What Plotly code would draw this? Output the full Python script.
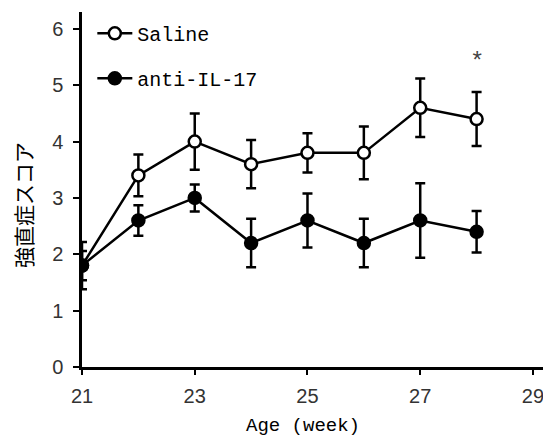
import plotly.graph_objects as go

weeks = [21, 22, 23, 24, 25, 26, 27, 28]
saline = [1.8, 3.4, 4.0, 3.6, 3.8, 3.8, 4.6, 4.4]
saline_err = [0.42, 0.37, 0.5, 0.43, 0.35, 0.47, 0.52, 0.48]
anti = [1.8, 2.6, 3.0, 2.2, 2.6, 2.2, 2.6, 2.4]
anti_err = [0.26, 0.27, 0.24, 0.43, 0.48, 0.43, 0.66, 0.37]
x_ticks = [21, 23, 25, 27, 29]
y_ticks = [0, 1, 2, 3, 4, 5, 6]
sig_week = 28
sig_y = 5.4

mono = "Liberation Mono"
fig = go.Figure()
fig.add_trace(go.Scatter(
    x=weeks, y=saline, name="Saline", mode="lines+markers", legendgroup="a",
    line=dict(color="black", width=2.5),
    marker=dict(symbol="circle", size=12, color="white", line=dict(color="black", width=2.5)),
    error_y=dict(type="data", array=saline_err, color="black", thickness=2.5, width=5),
))
fig.add_trace(go.Scatter(
    x=weeks, y=anti, name="anti-IL-17", mode="lines+markers", legendgroup="b",
    line=dict(color="black", width=2.5),
    marker=dict(symbol="circle", size=12, color="black", line=dict(color="black", width=2.5)),
    error_y=dict(type="data", array=anti_err, color="black", thickness=2.5, width=5),
))
fig.add_annotation(x=sig_week, y=sig_y, text="*", showarrow=False,
                   font=dict(family=mono, size=24, color="#444"))
fig.add_annotation(xref="paper", yref="paper", x=0.471, y=-0.166, text="Age (week)",
                   showarrow=False, xanchor="center", yanchor="middle",
                   font=dict(family=mono, size=19, color="black"))
fig.add_annotation(xref="paper", yref="paper", x=0, xshift=-59, y=0.456, text="強直症スコア",
                   textangle=-90, showarrow=False, xanchor="center", yanchor="middle",
                   font=dict(family="Noto Sans CJK JP", size=21, color="black"))

fig.update_layout(
    width=543, height=429,
    margin=dict(l=74, r=0, t=4, b=70),
    plot_bgcolor="white", paper_bgcolor="white",
    showlegend=True,
    legend=dict(x=0.022, y=0.995, xanchor="left", yanchor="top",
                font=dict(family=mono, size=20, color="black"),
                bgcolor="rgba(0,0,0,0)", itemwidth=35,
                traceorder="grouped", tracegroupgap=16),
    xaxis=dict(range=[21, 29.32], tickvals=x_ticks, ticks="outside", ticklen=5,
               tickwidth=2, tickcolor="black", showline=True, linecolor="black",
               linewidth=2.5, showgrid=False, zeroline=False, automargin=False,
               ticklabelstandoff=4,
               tickfont=dict(family="Liberation Sans", size=20, color="#333")),
    yaxis=dict(range=[0, 6.3], tickvals=y_ticks, ticks="outside", ticklen=6,
               tickwidth=2, tickcolor="black", showline=True, linecolor="black",
               linewidth=2.5, showgrid=False, zeroline=False, automargin=False,
               ticklabelstandoff=6,
               tickfont=dict(family="Liberation Sans", size=20, color="#333")),
)
fig.write_html("out.html")
